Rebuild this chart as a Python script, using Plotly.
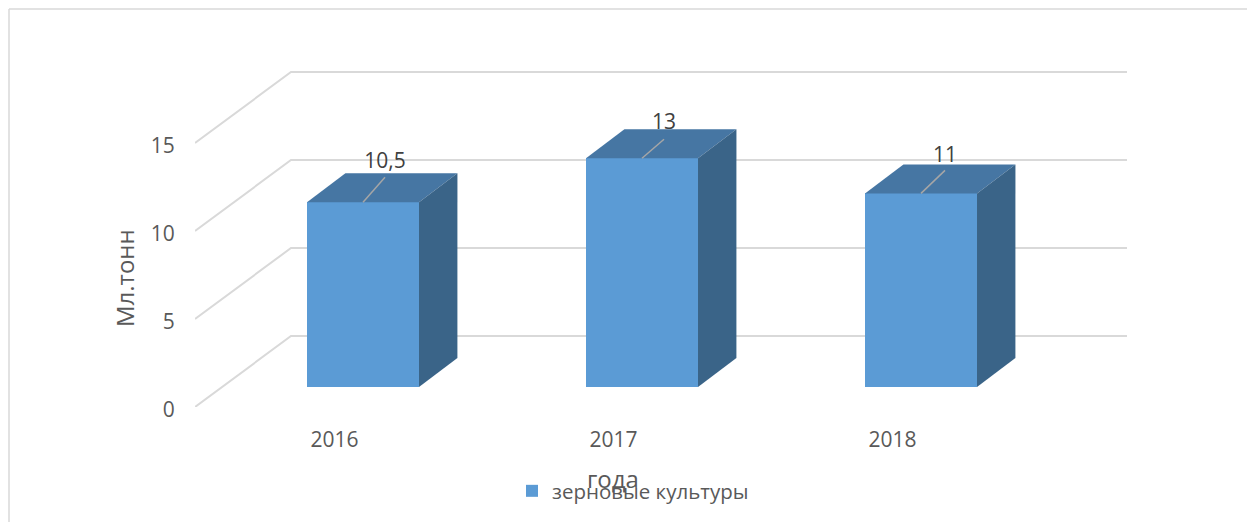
import plotly.graph_objects as go

# ---- data ----
categories = ["2016", "2017", "2018"]
values = [10.5, 13, 11]
value_labels = ["10,5", "13", "11"]
y_ticks = [0, 5, 10, 15]
series_name = "зерновые культуры"
y_title = "Мл.тонн"
x_title = "года"

# ---- page geometry (pixels) ----
W, H = 1247, 522
LEFT, RIGHT, BOTTOM, TOP = 195, 1127, 407, 60
CAT_PX, UNIT_PX = 279, 17.6
DEPTH_X = 96 / CAT_PX      # oblique projection: full depth, axis units
DEPTH_Y = 71 / UNIT_PX
BAR_WIDTH = 112 / CAT_PX
D_FRONT, D_BACK = 0.297, 0.697        # bar depth along x
DY_FRONT, DY_BACK = 0.2817, 0.69      # bar depth along y

FRONT, TOPC, SIDE = "#5B9BD5", "#4676A3", "#3A6488"
GRID, TEXT, LABEL, LEAD = "#D9D9D9", "#595959", "#404040", "#A6A6A6"
FONT = "Open Sans"

# per-label placement, in pixels above the bar's front top edge
LEADER_RISE = [25, 19, 23]
LEADER_RUN = [22, 22, 24]
LABEL_RISE = [39, 34, 37]

def px(cat, depth=0.0):
    return cat + depth * DEPTH_X

def py(val, depth=0.0):
    return val + depth * DEPTH_Y

x0 = -0.5
x1 = x0 + (RIGHT - LEFT) / CAT_PX
y1 = (BOTTOM - TOP) / UNIT_PX
cats = list(range(len(categories)))

fig = go.Figure()

# front faces
fig.add_trace(go.Bar(
    x=[px(c, D_FRONT) for c in cats], y=values,
    base=[py(0, DY_FRONT)] * len(cats), width=BAR_WIDTH,
    name=series_name, marker=dict(color=FRONT, line=dict(width=0)),
    showlegend=True, hoverinfo="skip",
))

# top and side faces
for c, v in zip(cats, values):
    l, r = c - BAR_WIDTH / 2, c + BAR_WIDTH / 2
    fig.add_trace(go.Scatter(
        x=[px(l, D_FRONT), px(r, D_FRONT), px(r, D_BACK), px(l, D_BACK), px(l, D_FRONT)],
        y=[py(v, DY_FRONT), py(v, DY_FRONT), py(v, DY_BACK), py(v, DY_BACK), py(v, DY_FRONT)],
        mode="lines", fill="toself", fillcolor=TOPC, line=dict(width=0),
        showlegend=False, hoverinfo="skip"))
    fig.add_trace(go.Scatter(
        x=[px(r, D_FRONT), px(r, D_BACK), px(r, D_BACK), px(r, D_FRONT), px(r, D_FRONT)],
        y=[py(v, DY_FRONT), py(v, DY_BACK), py(0, DY_BACK), py(0, DY_FRONT), py(v, DY_FRONT)],
        mode="lines", fill="toself", fillcolor=SIDE, line=dict(width=0),
        showlegend=False, hoverinfo="skip"))

# data-label leaders and labels
for c, v, t, run, rise, lift in zip(cats, values, value_labels, LEADER_RUN, LEADER_RISE, LABEL_RISE):
    bx, by = px(c, D_FRONT), py(v, DY_FRONT)
    fig.add_trace(go.Scatter(
        x=[bx, bx + run / CAT_PX], y=[by, by + rise / UNIT_PX], mode="lines",
        line=dict(color=LEAD, width=1.5), showlegend=False, hoverinfo="skip"))
    fig.add_trace(go.Scatter(
        x=[bx + run / CAT_PX], y=[by + lift / UNIT_PX], mode="text", text=[t],
        textposition="middle center", cliponaxis=False,
        textfont=dict(family=FONT, size=21, color=LABEL),
        showlegend=False, hoverinfo="skip"))

# walls: diagonal + back horizontal gridlines, behind everything
shapes = []
for t in y_ticks:
    path = (f"M {x0} {t} L {px(x0, 1)} {py(t, 1)} L {x1} {py(t, 1)}")
    shapes.append(dict(type="path", path=path, xref="x", yref="y", layer="below",
                       line=dict(color=GRID, width=2), fillcolor="rgba(0,0,0,0)"))

# outer frame
pw, ph = RIGHT - LEFT, BOTTOM - TOP
def fx(p): return (p - LEFT) / pw
def fy(p): return (BOTTOM - p) / ph
shapes.append(dict(type="line", xref="paper", yref="paper",
                   x0=fx(9), x1=fx(W), y0=fy(9), y1=fy(9), line=dict(color=GRID, width=1.5)))
shapes.append(dict(type="line", xref="paper", yref="paper",
                   x0=fx(9), x1=fx(9), y0=fy(9), y1=fy(H), line=dict(color=GRID, width=1.5)))

fig.update_layout(
    width=W, height=H, autosize=False,
    margin=dict(l=LEFT, r=W - RIGHT, t=TOP, b=H - BOTTOM, autoexpand=False, pad=0),
    paper_bgcolor="white", plot_bgcolor="rgba(0,0,0,0)",
    shapes=shapes, barmode="overlay", bargap=0,
    font=dict(family=FONT, color=TEXT, size=20),
    xaxis=dict(range=[x0, x1], tickmode="array", tickvals=cats, ticktext=categories,
               showgrid=False, zeroline=False, showline=False,
               ticks="outside", ticklen=14, tickcolor="rgba(0,0,0,0)",
               tickfont=dict(family=FONT, size=21, color=TEXT)),
    yaxis=dict(range=[0, y1], tickmode="array", tickvals=y_ticks,
               showgrid=False, zeroline=False, showline=False,
               ticks="outside", ticklen=15, tickcolor="rgba(0,0,0,0)",
               ticklabelshift=3,
               tickfont=dict(family=FONT, size=21, color=TEXT)),
    legend=dict(x=fx(512), y=fy(491), xanchor="left", yanchor="middle",
                orientation="h", bgcolor="rgba(0,0,0,0)",
                font=dict(family=FONT, size=20.5, color=TEXT)),
    annotations=[
        dict(text=y_title, xref="paper", yref="paper", x=fx(124), y=fy(278), textangle=-90,
             showarrow=False, xanchor="center", yanchor="middle",
             font=dict(family=FONT, size=24, color=TEXT)),
        dict(text=x_title, xref="paper", yref="paper", x=fx(613), y=fy(478),
             showarrow=False, xanchor="center", yanchor="middle",
             font=dict(family=FONT, size=24, color=TEXT)),
    ],
)
fig.write_html("out.html", config=dict(displayModeBar=False),
               post_script="document.body.style.margin='0';document.documentElement.style.overflow='hidden';")
